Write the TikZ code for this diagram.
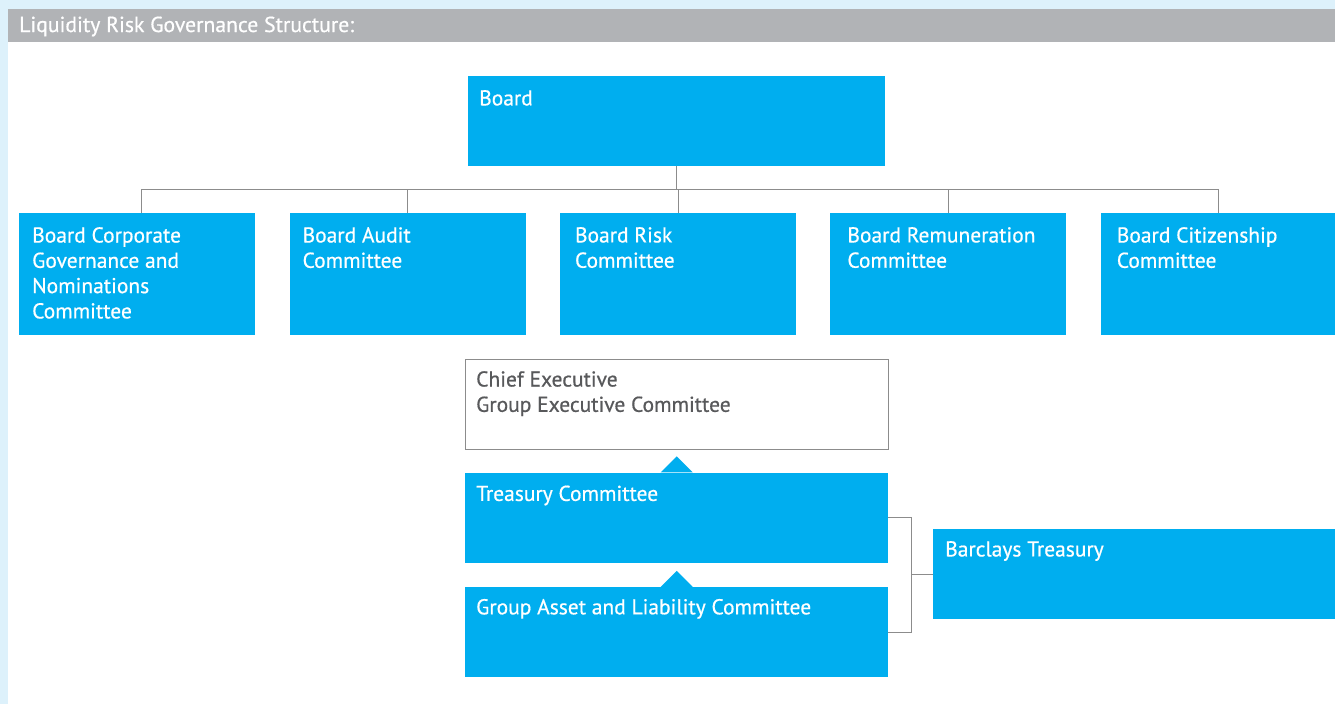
\documentclass[tikz,border=0pt]{standalone}
\usepackage{fontspec}
\setmainfont{PT Sans}
\newfontfamily\medfont{PT Sans}[FakeBold=0.6]
\usetikzlibrary{positioning}

\definecolor{bcyan}{HTML}{00AEEF}
\definecolor{paleblue}{HTML}{DDF1FB}
\definecolor{headgrey}{HTML}{B1B3B6}
\definecolor{linegrey}{HTML}{8C8C8C}
\definecolor{txtgrey}{HTML}{58595B}

\tikzset{
  box/.style={fill=bcyan, anchor=north west, inner sep=0pt, minimum height=90pt},
  combox/.style={box, minimum width=236pt, minimum height=122pt},
  wbox/.style={draw=linegrey, fill=white, anchor=north west, inner sep=0pt,
    minimum width=423pt, minimum height=90pt},
  boxtext/.style={anchor=north west, inner sep=0pt, align=left, text=white,
    font=\medfont\fontsize{21.5}{25.3}\selectfont},
  conn/.style={draw=linegrey, line width=1pt},
}

\begin{document}
\begin{tikzpicture}[x=1pt, y=-1pt]
  \useasboundingbox (0,0) rectangle (1335,704);
  \fill[paleblue] (0,0) rectangle (1335,704);
  \fill[white] (8,42) rectangle (1335,704);
  \fill[headgrey] (8,9) rectangle (1335,42);
  \node[anchor=west, inner sep=0pt, text=white, font=\medfont\fontsize{21.7}{24}\selectfont]
    (title) at (19,26.5) {Liquidity Risk Governance Structure:};

  % board and its committees
  \node[box, minimum width=417pt] (board) at (468,76) {};
  \node[combox] (bc1) at (19,213) {};
  \node[combox, right=34pt of bc1] (bc2) {};
  \node[combox, right=34pt of bc2] (bc3) {};
  \node[combox, right=34pt of bc3] (bc4) {};
  \node[combox, right=34pt of bc4] (bc5) {};

  \coordinate (bus) at (0,189);
  \draw[conn] (board.south) -- (board.south |- bus);
  \draw[conn] ([xshift=4pt]bc1.north) |- (bc5.north |- bus) -- (bc5.north);
  \foreach \b in {bc2,bc3,bc4}
    \draw[conn] (\b.north) -- (\b.north |- bus);

  % executive side
  \node[wbox] (chief) at (465,359) {};
  \node[box, minimum width=423pt, below=23pt of chief] (treas) {};
  \node[box, minimum width=423pt, below=24pt of treas] (alco) {};
  \node[box, minimum width=402pt] (bart) at (933,529) {};

  \fill[bcyan] ([xshift=-16pt]treas.north) -- ([yshift=16pt]treas.north) -- ([xshift=16pt]treas.north) -- cycle;
  \fill[bcyan] ([xshift=-16pt]alco.north) -- ([yshift=16pt]alco.north) -- ([xshift=16pt]alco.north) -- cycle;

  \draw[conn] (treas.east) -- ++(23,0) |- (alco.east);
  \draw[conn] (bart.west) -- ++(-22,0);

  % texts
  \node[boxtext] (boardt) at ([shift={(11,14)}]board.north west) {Board};
  \node[boxtext] (bc1t) at ([shift={(13,14)}]bc1.north west) {Board Corporate\\Governance and\\Nominations\\Committee};
  \node[boxtext] (bc2t) at ([shift={(13,14)}]bc2.north west) {Board Audit\\Committee};
  \node[boxtext] (bc3t) at ([shift={(15,14)}]bc3.north west) {Board Risk\\Committee};
  \node[boxtext] (bc4t) at ([shift={(17,14)}]bc4.north west) {Board Remuneration\\Committee};
  \node[boxtext] (bc5t) at ([shift={(16,14)}]bc5.north west) {Board Citizenship\\Committee};
  \node[boxtext, text=txtgrey] (chieft) at ([shift={(11,12)}]chief.north west) {Chief Executive\\Group Executive Committee};
  \node[boxtext] (treast) at ([shift={(11,13)}]treas.north west) {Treasury Committee};
  \node[boxtext] (alcot) at ([shift={(11,12)}]alco.north west) {Group Asset and Liability Committee};
  \node[boxtext] (bartt) at ([shift={(12,12)}]bart.north west) {Barclays Treasury};
\end{tikzpicture}
\end{document}
